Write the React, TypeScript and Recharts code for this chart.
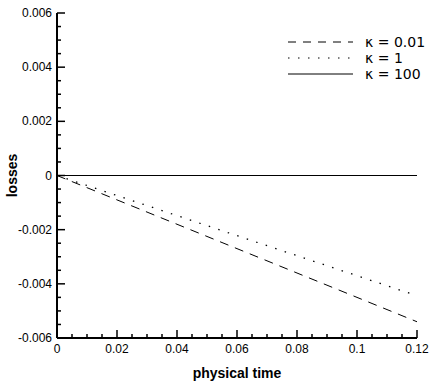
import { LineChart, Line, XAxis, YAxis, Legend } from "recharts";

const times = [0, 0.02, 0.04, 0.06, 0.08, 0.1, 0.12];
const kappa001 = [0, -0.0009, -0.0018, -0.0027, -0.0036, -0.0045, -0.0054];
const kappa1 = [0, -0.00074, -0.00148, -0.00222, -0.00296, -0.0037, -0.00444];
const kappa100 = [0, 0, 0, 0, 0, 0, 0];

const xMajor = [0, 0.02, 0.04, 0.06, 0.08, 0.1, 0.12];
const xMinor = [
  0.005, 0.01, 0.015, 0.025, 0.03, 0.035, 0.045, 0.05, 0.055, 0.065, 0.07, 0.075,
  0.085, 0.09, 0.095, 0.105, 0.11, 0.115,
];
const yMajor = [-0.006, -0.004, -0.002, 0, 0.002, 0.004, 0.006];
const yMinor = [
  -0.0055, -0.005, -0.0045, -0.0035, -0.003, -0.0025, -0.0015, -0.001, -0.0005,
  0.0005, 0.001, 0.0015, 0.0025, 0.003, 0.0035, 0.0045, 0.005, 0.0055,
];

const legendItems = [
  { label: "κ = 0.01", dash: "8 7" },
  { label: "κ = 1", dash: "1.5 8.5" },
  { label: "κ = 100", dash: undefined },
];

const data = times.map((t, i) => ({
  t,
  k001: kappa001[i],
  k1: kappa1[i],
  k100: kappa100[i],
}));

const font = "'Liberation Sans', Arial, sans-serif";

const isMajor = (v: number, list: number[]) => list.some((m) => Math.abs(m - v) < 1e-9);

function XTick(props: any) {
  const { x, y, payload } = props;
  const major = isMajor(payload.value, xMajor);
  return (
    <g>
      <line x1={x} x2={x} y1={y} y2={y - (major ? 8 : 4)} stroke="#000" strokeWidth={1.5} />
      {major && (
        <text x={x} y={y + 15} textAnchor="middle" fontSize={12} fontFamily={font} fill="#000">
          {String(payload.value)}
        </text>
      )}
    </g>
  );
}

function YTick(props: any) {
  const { x, y, payload } = props;
  const major = isMajor(payload.value, yMajor);
  return (
    <g>
      <line x1={x} x2={x + (major ? 8 : 4)} y1={y} y2={y} stroke="#000" strokeWidth={1.5} />
      {major && (
        <text x={x - 5} y={y + 4} textAnchor="end" fontSize={12} fontFamily={font} fill="#000">
          {String(payload.value)}
        </text>
      )}
    </g>
  );
}

function YTitle(props: any) {
  const vb = props.viewBox || { x: 0, y: 13, width: 57, height: 325 };
  const cx = 12;
  const cy = vb.y + vb.height / 2;
  return (
    <text
      x={cx}
      y={cy}
      transform={`rotate(-90 ${cx} ${cy})`}
      textAnchor="middle"
      dominantBaseline="central"
      fontSize={14}
      fontWeight="bold"
      fontFamily={font}
      fill="#000"
    >
      losses
    </text>
  );
}

function LegendBox() {
  return (
    <svg width={150} height={50}>
      {legendItems.map((item, i) => (
        <g key={item.label}>
          <line
            x1={3}
            x2={68}
            y1={8 + i * 16}
            y2={8 + i * 16}
            stroke="#000"
            strokeWidth={1}
            strokeDasharray={item.dash}
          />
          <text x={80} y={13 + i * 16} fontSize={14} fontFamily="'DejaVu Sans', sans-serif" fill="#000">
            {item.label}
          </text>
        </g>
      ))}
    </svg>
  );
}

export default function App() {
  return (
    <div style={{ position: "absolute", left: 0, top: 0, background: "#fff" }}>
      <LineChart width={436} height={386} data={data} margin={{ top: 13, right: 19, left: 0, bottom: 0 }}>
        <XAxis
          dataKey="t"
          type="number"
          domain={[0, 0.12]}
          ticks={[...xMajor, ...xMinor]}
          interval={0}
          height={48}
          tickSize={0}
          tickMargin={0}
          tickLine={false}
          tick={<XTick />}
          axisLine={{ stroke: "#000", strokeWidth: 2 }}
          label={{ value: "physical time", position: "insideBottom", offset: 8, fontSize: 14, fontWeight: "bold", fontFamily: font, fill: "#000" }}
        />
        <YAxis
          type="number"
          domain={[-0.006, 0.006]}
          ticks={[...yMajor, ...yMinor]}
          interval={0}
          width={57}
          tickSize={0}
          tickMargin={0}
          tickLine={false}
          tick={<YTick />}
          axisLine={{ stroke: "#000", strokeWidth: 2 }}
          label={{ content: (p: any) => <YTitle {...p} /> }}
        />
        <Legend
          layout="horizontal"
          verticalAlign="middle"
          align="center"
          content={() => <LegendBox />}
          wrapperStyle={{ position: "absolute", left: 285, top: 34, width: 150 }}
        />
        <Line dataKey="k001" stroke="#000" strokeWidth={1} strokeDasharray="9 7" dot={false} isAnimationActive={false} />
        <Line dataKey="k1" stroke="#000" strokeWidth={1.3} strokeDasharray="1.5 8.5" dot={false} isAnimationActive={false} />
        <Line dataKey="k100" stroke="#000" strokeWidth={1} dot={false} isAnimationActive={false} />
      </LineChart>
    </div>
  );
}
